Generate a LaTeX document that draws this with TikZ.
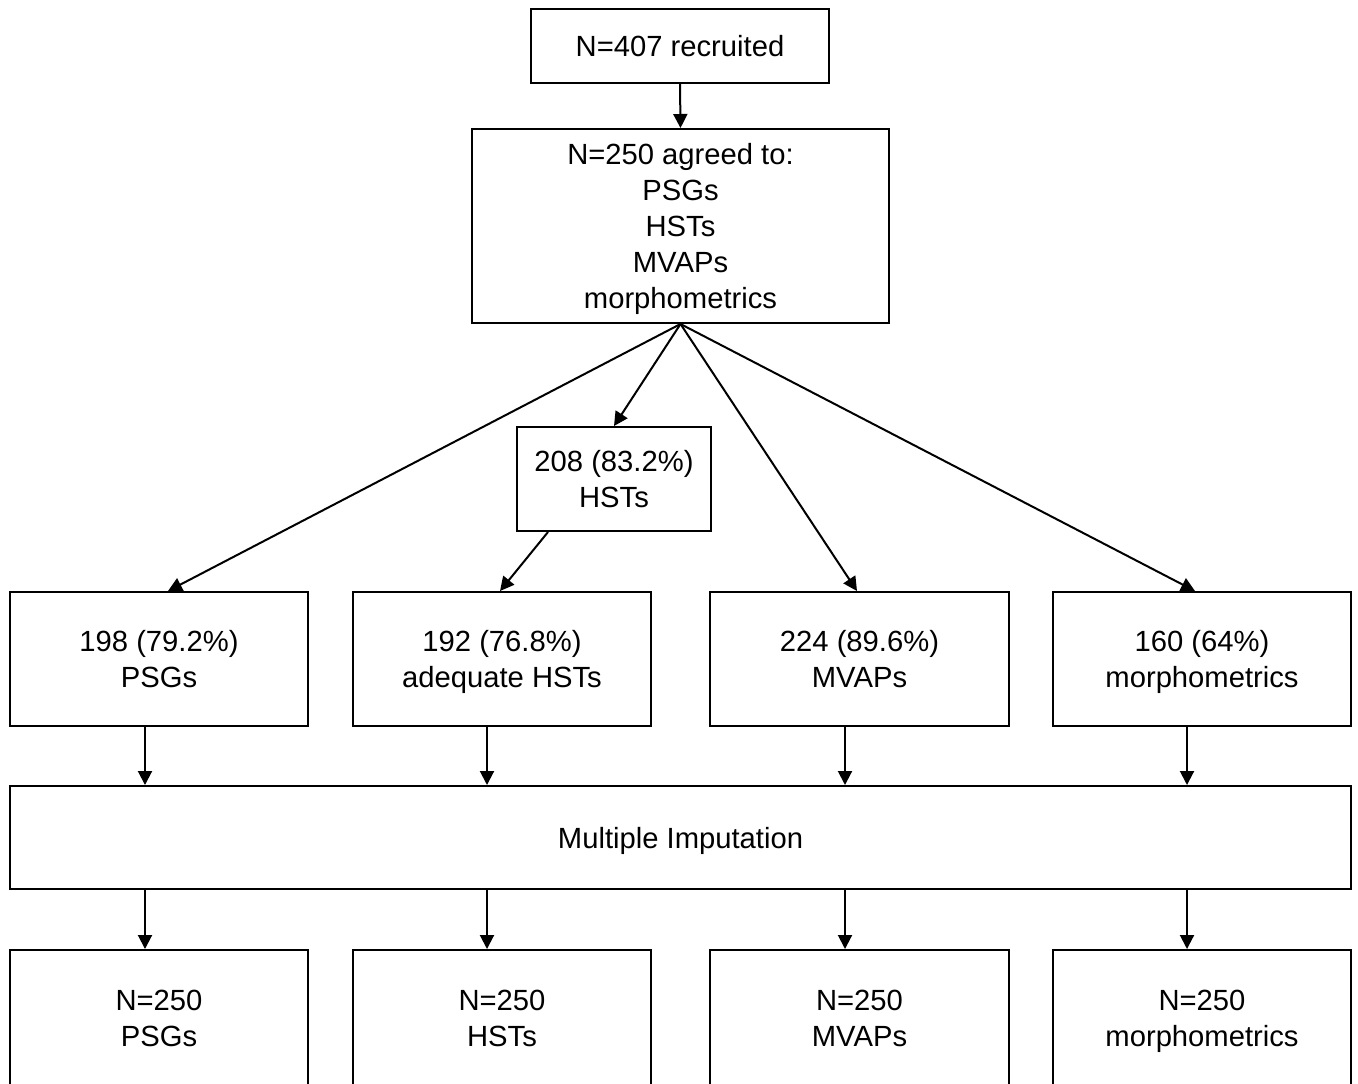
\documentclass[tikz,border=0pt]{standalone}
\usepackage{fontspec}
\setmainfont{Liberation Sans}
\usetikzlibrary{arrows.meta}
\newcommand\sr{\rule[-3.2pt]{0pt}{16.9pt}}
\begin{document}
\begin{tikzpicture}[x=0.5pt,y=-0.5pt,
  box/.style={draw,line width=1pt,inner sep=0pt,align=center,font=\fontsize{14.6pt}{18pt}\selectfont},
  arr/.style={line width=1pt,-{Triangle[length=7pt,width=7pt]}}]
\useasboundingbox (0,0) rectangle (1358,1083);
\clip (0,0) rectangle (1358,1083);
\node[box,minimum width=149pt,minimum height=37pt] (rec) at (680,46) {\sr N=407 recruited};
\node[box,minimum width=208.5pt,minimum height=97pt] (agr) at (680.5,226) {\sr N=250 agreed to:\\\sr PSGs\\\sr HSTs\\\sr MVAPs\\\sr morphometrics};
\node[box,minimum width=97pt,minimum height=52pt] (hst) at (614,479) {\sr 208 (83.2\%)\\\sr HSTs};
\node[box,minimum width=149pt,minimum height=67pt] (psg) at (159,659) {\sr 198 (79.2\%)\\\sr PSGs};
\node[box,minimum width=149pt,minimum height=67pt] (ahst) at (502,659) {\sr 192 (76.8\%)\\\sr adequate HSTs};
\node[box,minimum width=149.5pt,minimum height=67pt] (mvap) at (859.5,659) {\sr 224 (89.6\%)\\\sr MVAPs};
\node[box,minimum width=149pt,minimum height=67pt] (morph) at (1202,659) {\sr 160 (64\%)\\\sr morphometrics};
\node[box,minimum width=670.5pt,minimum height=51.5pt] (mi) at (680.5,837.5) {\sr Multiple Imputation};
\node[box,minimum width=149pt,minimum height=68pt] (fpsg) at (159,1018) {\sr N=250\\\sr PSGs};
\node[box,minimum width=149pt,minimum height=68pt] (fhst) at (502,1018) {\sr N=250\\\sr HSTs};
\node[box,minimum width=149.5pt,minimum height=68pt] (fmvap) at (859.5,1018) {\sr N=250\\\sr MVAPs};
\node[box,minimum width=149pt,minimum height=68pt] (fmorph) at (1202,1018) {\sr N=250\\\sr morphometrics};
\draw[arr] (rec.south) -- (agr.north);
\draw[arr] (agr.south) -- (psg.north -| 168,0);
\draw[arr] (agr.south) -- (hst.north);
\draw[arr] (agr.south) -- (mvap.north -| 857,0);
\draw[arr] (agr.south) -- (morph.north -| 1195,0);
\draw[arr] (hst.south -| 548,0) -- (ahst.north -| 500,0);
\foreach \a/\b/\x in {psg/fpsg/145,ahst/fhst/487,mvap/fmvap/845,morph/fmorph/1187}{
  \draw[arr] (\a.south -| \x,0) -- (mi.north -| \x,0);
  \draw[arr] (mi.south -| \x,0) -- (\b.north -| \x,0);
}
\end{tikzpicture}
\end{document}
